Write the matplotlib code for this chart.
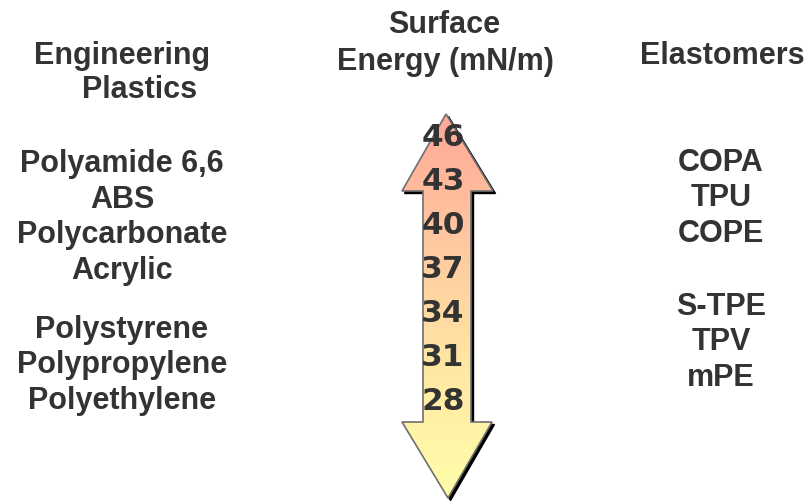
import matplotlib.pyplot as plt
import numpy as np
from matplotlib.patches import Polygon
from matplotlib.colors import LinearSegmentedColormap

# chart content
plastics_header = ["Engineering", "Plastics"]
energy_header = ["Surface", "Energy (mN/m)"]
elastomer_header = "Elastomers"
plastics_top = ["Polyamide 6,6", "ABS", "Polycarbonate", "Acrylic"]
plastics_bottom = ["Polystyrene", "Polypropylene", "Polyethylene"]
elastomers_top = ["COPA", "TPU", "COPE"]
elastomers_bottom = ["S-TPE", "TPV", "mPE"]
energies = [46, 43, 40, 37, 34, 31, 28]

TXT = "#333333"
W, H = 809, 501
FS = 22

fig = plt.figure(figsize=(W / 100, H / 100), dpi=100)
ax = fig.add_axes([0, 0, 1, 1])
ax.set_xlim(0, W)
ax.set_ylim(H, 0)
ax.axis("off")

font = dict(family="Liberation Sans", weight="bold", color=TXT, fontsize=FS)

# headers
ax.text(122, 56, plastics_header[0], ha="center", va="center", **font)
ax.text(140, 90, plastics_header[1], ha="center", va="center", **font)
ax.text(444, 25, energy_header[0], ha="center", va="center", **font)
ax.text(445, 62, energy_header[1], ha="center", va="center", **font)
ax.text(722, 56, elastomer_header, ha="center", va="center", **font)

# left/right lists
def column(x, y0, labels, step=35.5):
    for i, lab in enumerate(labels):
        ax.text(x, y0 + i * step, lab, ha="center", va="center", **font)

column(122, 164, plastics_top)
column(122, 330, plastics_bottom)
column(721, 163, elastomers_top)
column(721, 307, elastomers_bottom)

# double arrow
cx = 446
pts = [(cx, 114), (493, 191), (471, 191), (471, 422), (492, 422), (448, 498),
       (402, 422), (423, 422), (423, 191), (402, 191)]
shadow = Polygon([(x + 2.5, y + 2.5) for x, y in pts], closed=True,
                 facecolor="black", edgecolor="black", lw=1, zorder=1)
ax.add_patch(shadow)

cmap = LinearSegmentedColormap.from_list("se", ["#ffa896", "#ffc8a0", "#ffe8a4", "#ffffaa"])
grad = np.linspace(0, 1, 256).reshape(-1, 1)
im = ax.imshow(grad, cmap=cmap, extent=(400, 495, 498, 114), aspect="auto", zorder=2)
body = Polygon(pts, closed=True, facecolor="none", edgecolor="#707070", lw=1.2, zorder=3)
ax.add_patch(body)
im.set_clip_path(body)
ax.set_xlim(0, W)
ax.set_ylim(H, 0)

# energy scale along the arrow
def y_of(v):
    return 402 - (v - 28) / 3 * 44

for v in energies:
    ax.text(443, y_of(v), str(v), ha="center", va="center", fontsize=22.5,
            family="DejaVu Sans", weight="heavy", color=TXT, zorder=4)

fig.savefig("out.png", dpi=100)
